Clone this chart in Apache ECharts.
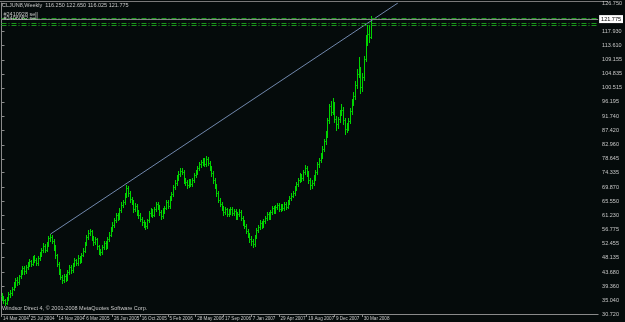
<!doctype html>
<html lang="en">
<head>
<meta charset="UTF-8">
<title>CLJUN8,Weekly</title>
<script src="https://cdn.jsdelivr.net/npm/echarts@6.0.0/dist/echarts.min.js"></script>
<style>
  html, body { margin: 0; padding: 0; background: #050b0b; }
  #main { width: 625px; height: 322px; }
</style>
</head>
<body>
<div id="main"></div>
<script type="text/javascript">
// weekly bars, 14 Mar 2004 .. 4 May 2008 (bar index = position on the x axis)
var opens = [
  36.4, 35.8, 34.9, 34.2, 35.5, 36.8, 37.2, 38.5, 39.8, 41.2, 40.5, 42.3, 43.6, 44.8, 43.9, 45.2,
  46.1, 47.0, 46.2, 48.1, 47.3, 46.5, 48.0, 49.2, 50.4, 51.8, 50.6, 52.3, 54.1, 54.6, 53.2, 51.4,
  48.9, 46.2, 44.0, 42.1, 41.3, 42.6, 41.5, 43.8, 45.1, 44.2, 46.0, 47.3, 46.5, 48.1, 47.2, 49.0,
  50.3, 52.4, 54.6, 55.8, 56.2, 54.2, 52.9, 53.8, 51.6, 50.2, 49.8, 51.3, 52.7, 51.5, 53.9, 55.2,
  57.0, 58.3, 59.6, 61.2, 60.4, 62.8, 64.5, 65.2, 67.3, 69.5, 68.1, 66.2, 65.4, 63.1, 64.2, 62.0,
  61.3, 60.2, 59.1, 58.4, 57.9, 59.6, 61.8, 62.5, 61.4, 63.2, 64.6, 63.8, 62.1, 61.0, 62.7, 63.5,
  65.2, 64.1, 66.5, 67.8, 69.9, 71.2, 72.8, 74.1, 75.0, 74.6, 72.0, 71.4, 70.5, 71.8, 70.9, 72.2,
  73.6, 74.5, 75.8, 76.9, 77.5, 78.2, 77.0, 78.6, 77.4, 75.9, 74.2, 72.0, 70.3, 68.1, 66.0, 64.8,
  63.5, 62.2, 63.0, 61.7, 62.4, 63.1, 61.9, 62.5, 60.8, 61.6, 62.3, 60.4, 59.1, 58.0, 56.5, 55.2,
  54.0, 53.2, 52.4, 54.6, 56.8, 57.5, 58.9, 58.2, 59.5, 60.3, 61.5, 60.8, 62.2, 63.4, 62.6, 63.8,
  64.3, 63.1, 64.0, 63.5, 64.7, 63.9, 65.2, 66.4, 67.3, 68.0, 69.5, 70.8, 72.1, 73.4, 72.7, 74.5,
  75.9, 74.2, 72.0, 70.5, 71.3, 72.8, 74.6, 76.9, 78.2, 79.5, 81.8, 84.0, 86.2, 90.5, 94.8, 93.2,
  95.6, 91.0, 89.4, 90.8, 92.9, 93.8, 90.5, 87.8, 88.6, 90.2, 93.4, 96.1, 98.0, 101.5, 104.8, 106.2,
  100.8, 103.9, 109.5, 115.8, 117.1, 116.25
];
var highs = [
  37.1, 36.3, 35.4, 36.0, 37.4, 38.1, 39.0, 40.6, 41.9, 42.0, 42.9, 44.2, 45.6, 45.4, 45.9, 46.9,
  47.8, 47.5, 48.7, 48.9, 47.9, 48.6, 49.9, 51.0, 52.5, 52.3, 52.9, 54.8, 55.4, 55.1, 53.8, 51.9,
  49.4, 46.8, 44.6, 42.9, 43.2, 43.1, 44.4, 45.8, 45.7, 46.6, 47.9, 47.8, 48.8, 48.6, 49.6, 51.0,
  53.0, 55.2, 56.6, 57.1, 56.8, 54.8, 54.5, 54.3, 52.1, 50.9, 51.9, 53.3, 53.2, 54.5, 55.9, 57.7,
  59.0, 60.3, 61.9, 61.8, 63.4, 65.2, 66.0, 68.0, 70.6, 70.2, 68.7, 67.0, 65.9, 64.9, 64.7, 62.8,
  61.9, 60.8, 59.8, 59.1, 60.2, 62.4, 63.3, 63.0, 63.9, 65.3, 65.2, 64.3, 62.7, 63.3, 64.2, 65.9,
  65.8, 67.1, 68.5, 70.6, 72.0, 73.5, 74.9, 75.9, 75.7, 75.1, 72.7, 72.0, 72.4, 72.3, 72.8, 74.3,
  75.2, 76.5, 77.6, 78.3, 79.0, 78.8, 79.6, 79.2, 78.0, 76.5, 74.8, 72.6, 70.9, 68.7, 66.6, 65.4,
  64.1, 63.7, 63.6, 63.1, 63.9, 63.7, 63.2, 63.0, 62.3, 63.0, 62.8, 61.0, 59.7, 58.6, 57.1, 55.8,
  54.7, 53.9, 55.2, 57.4, 58.3, 59.6, 59.5, 60.1, 61.0, 62.2, 62.1, 62.9, 64.1, 64.0, 64.5, 65.1,
  64.9, 64.7, 64.6, 65.4, 65.3, 65.9, 67.1, 68.0, 68.8, 70.2, 71.5, 72.8, 74.2, 74.0, 75.2, 76.8,
  76.5, 74.8, 72.6, 72.0, 73.5, 75.3, 77.6, 79.0, 80.4, 82.6, 84.9, 87.1, 91.3, 95.7, 96.4, 97.4,
  96.2, 91.8, 91.7, 93.8, 95.6, 94.6, 91.2, 89.7, 91.1, 94.2, 97.0, 99.2, 102.6, 106.3, 110.0, 106.9,
  105.2, 110.3, 116.8, 119.9, 120.0, 122.65
];
var lows = [
  35.0, 34.2, 33.4, 33.7, 35.0, 36.1, 36.7, 38.0, 39.2, 39.7, 40.0, 41.8, 43.1, 43.0, 43.4, 44.6,
  45.5, 45.4, 45.8, 46.8, 45.7, 46.0, 47.5, 48.7, 49.9, 49.8, 50.1, 51.8, 53.2, 52.5, 50.6, 48.1,
  45.5, 43.2, 41.4, 40.4, 40.7, 40.8, 41.1, 43.2, 43.5, 43.8, 45.4, 45.8, 46.0, 46.5, 46.8, 48.5,
  49.8, 51.9, 54.0, 55.0, 53.5, 52.1, 52.3, 50.9, 49.4, 49.0, 49.3, 50.8, 50.8, 51.1, 53.4, 54.7,
  56.4, 57.7, 59.0, 59.6, 60.0, 62.2, 63.8, 64.7, 66.8, 67.2, 65.4, 64.6, 62.3, 62.5, 61.2, 60.5,
  59.5, 58.3, 57.6, 57.0, 57.3, 59.1, 61.1, 60.6, 60.9, 62.6, 63.0, 61.3, 60.2, 60.5, 62.0, 63.0,
  63.3, 63.6, 65.9, 67.2, 69.3, 70.6, 72.2, 73.4, 73.8, 71.2, 70.6, 69.7, 69.9, 70.1, 70.3, 71.6,
  73.0, 73.9, 75.2, 76.2, 76.8, 76.3, 76.5, 76.7, 75.1, 73.4, 71.2, 69.5, 67.3, 65.2, 64.0, 62.7,
  61.4, 61.5, 60.9, 61.0, 61.7, 61.2, 61.2, 60.0, 60.1, 60.9, 59.6, 58.3, 57.2, 55.7, 54.4, 53.1,
  52.1, 51.3, 51.8, 54.1, 56.1, 56.9, 57.4, 57.6, 58.9, 59.7, 60.0, 60.2, 61.6, 61.8, 62.0, 63.1,
  62.4, 62.5, 62.8, 62.9, 63.1, 63.3, 64.6, 65.8, 66.7, 67.4, 68.9, 70.2, 71.5, 71.9, 72.1, 73.9,
  73.4, 71.1, 69.4, 69.6, 70.7, 72.2, 74.0, 76.2, 77.5, 78.9, 81.1, 83.2, 85.5, 89.8, 92.1, 92.6,
  89.9, 87.6, 88.3, 90.1, 92.2, 89.4, 86.2, 86.9, 87.5, 89.6, 92.5, 95.3, 97.2, 100.6, 103.9, 99.1,
  99.6, 102.9, 108.9, 113.9, 114.8, 116.025
];
var closes = [
  35.8, 34.9, 34.2, 35.5, 36.8, 37.2, 38.5, 39.8, 41.2, 40.5, 42.3, 43.6, 44.8, 43.9, 45.2, 46.1,
  47.0, 46.2, 48.1, 47.3, 46.5, 48.0, 49.2, 50.4, 51.8, 50.6, 52.3, 54.1, 54.6, 53.2, 51.4, 48.9,
  46.2, 44.0, 42.1, 41.3, 42.6, 41.5, 43.8, 45.1, 44.2, 46.0, 47.3, 46.5, 48.1, 47.2, 49.0, 50.3,
  52.4, 54.6, 55.8, 56.2, 54.2, 52.9, 53.8, 51.6, 50.2, 49.8, 51.3, 52.7, 51.5, 53.9, 55.2, 57.0,
  58.3, 59.6, 61.2, 60.4, 62.8, 64.5, 65.2, 67.3, 69.5, 68.1, 66.2, 65.4, 63.1, 64.2, 62.0, 61.3,
  60.2, 59.1, 58.4, 57.9, 59.6, 61.8, 62.5, 61.4, 63.2, 64.6, 63.8, 62.1, 61.0, 62.7, 63.5, 65.2,
  64.1, 66.5, 67.8, 69.9, 71.2, 72.8, 74.1, 75.0, 74.6, 72.0, 71.4, 70.5, 71.8, 70.9, 72.2, 73.6,
  74.5, 75.8, 76.9, 77.5, 78.2, 77.0, 78.6, 77.4, 75.9, 74.2, 72.0, 70.3, 68.1, 66.0, 64.8, 63.5,
  62.2, 63.0, 61.7, 62.4, 63.1, 61.9, 62.5, 60.8, 61.6, 62.3, 60.4, 59.1, 58.0, 56.5, 55.2, 54.0,
  53.2, 52.4, 54.6, 56.8, 57.5, 58.9, 58.2, 59.5, 60.3, 61.5, 60.8, 62.2, 63.4, 62.6, 63.8, 64.3,
  63.1, 64.0, 63.5, 64.7, 63.9, 65.2, 66.4, 67.3, 68.0, 69.5, 70.8, 72.1, 73.4, 72.7, 74.5, 75.9,
  74.2, 72.0, 70.5, 71.3, 72.8, 74.6, 76.9, 78.2, 79.5, 81.8, 84.0, 86.2, 90.5, 94.8, 93.2, 95.6,
  91.0, 89.4, 90.8, 92.9, 93.8, 90.5, 87.8, 88.6, 90.2, 93.4, 96.1, 98.0, 101.5, 104.8, 106.2, 100.8,
  103.9, 109.5, 115.8, 117.1, 116.3, 121.775
];

// x axis ticks (bar index) and their labels
var xTickIdx = [0, 16, 32, 48, 64, 80, 96, 112, 128, 144, 160, 176, 192, 208];
var xTickLabels = ['14 Mar 2004', '25 Jul 2004', '14 Nov 2004', '6 Mar 2005', '26 Jun 2005',
  '16 Oct 2005', '5 Feb 2006', '28 May 2006', '17 Sep 2006', '7 Jan 2007', '29 Apr 2007',
  '19 Aug 2007', '9 Dec 2007', '30 Mar 2008'];

// price scale labels on the right
var yTicks = [126.750, 117.930, 113.610, 109.155, 104.835, 100.515, 96.195, 91.740, 87.420,
  82.960, 78.645, 74.335, 69.870, 65.550, 61.230, 56.775, 52.455, 48.135, 43.680, 39.360,
  35.040, 30.720];

var lastPrice = 121.775;
var orderPrices = [122.03, 120.64, 119.74];
var orderNames = ['#2410928 sell', '#2406082 sell', ''];

// trend line anchors [bar index, price]
var trendX = [28.3, 228.6];
var trendY = [55.42, 126.75];

var ohlc = [];
for (var i = 0; i < closes.length; i++) {
    ohlc.push([i, opens[i], highs[i], lows[i], closes[i]]);
}

var barColor = '#00d400';
var textColor = '#c8c8c8';
var font = '"Liberation Sans", sans-serif';

function renderBar(params, api) {
    var x = api.value(0);
    var o = api.coord([x, api.value(1)]);
    var h = api.coord([x, api.value(2)]);
    var l = api.coord([x, api.value(3)]);
    var c = api.coord([x, api.value(4)]);
    var px = Math.round(h[0]) + 0.5;
    var st = { stroke: barColor, lineWidth: 1 };
    return {
        type: 'group',
        children: [
            { type: 'line', shape: { x1: px, y1: Math.round(h[1]), x2: px, y2: Math.round(l[1]) + 1 }, style: st },
            { type: 'line', shape: { x1: px - 1, y1: Math.round(o[1]) + 0.5, x2: px, y2: Math.round(o[1]) + 0.5 }, style: st },
            { type: 'line', shape: { x1: px, y1: Math.round(c[1]) + 0.5, x2: px + 1, y2: Math.round(c[1]) + 0.5 }, style: st }
        ]
    };
}

var orderLines = [];
for (var k = 0; k < orderPrices.length; k++) {
    orderLines.push({
        yAxis: orderPrices[k],
        lineStyle: { color: '#1b9a1b', type: [5, 2, 1, 2], width: 1 },
        label: {
            show: orderNames[k] !== '',
            formatter: orderNames[k],
            position: 'insideStartTop',
            distance: [2, 1],
            color: textColor,
            fontSize: 5.5,
            fontFamily: font
        }
    });
}
orderLines.push({
    yAxis: lastPrice,
    lineStyle: { color: '#8a8a8a', type: 'solid', width: 1 },
    label: {
        show: true,
        position: 'end',
        distance: 1,
        formatter: lastPrice.toFixed(3),
        color: '#000',
        backgroundColor: '#ffffff',
        padding: [1, 2, 1, 2],
        fontSize: 5.5,
        fontFamily: font
    }
});

var myChart = echarts.init(document.getElementById('main'));

var option = {
    backgroundColor: '#050b0b',
    animation: false,
    grid: { left: 0, right: 17, top: 3, bottom: 8 },
    graphic: [
        { type: 'line', shape: { x1: 0, y1: 1.5, x2: 608, y2: 1.5 }, style: { stroke: '#7a7a7a', lineWidth: 1 } },
        {
            type: 'text', left: 2, top: 2,
            style: { text: 'CLJUN8,Weekly  116.250 122.650 116.025 121.775', fill: textColor, fontSize: 5.5, fontFamily: font }
        },
        {
            type: 'text', left: 2, top: 305,
            style: { text: 'Windsor Direct 4, \u00a9 2001-2008 MetaQuotes Software Corp.', fill: textColor, fontSize: 5.5, fontFamily: font }
        }
    ],
    xAxis: {
        type: 'value',
        min: 0,
        max: 344.1,
        splitLine: { show: false },
        axisLine: { show: true, lineStyle: { color: '#8a8a8a' } },
        axisTick: { show: true, length: 3, customValues: xTickIdx, lineStyle: { color: '#8a8a8a' } },
        axisLabel: {
            customValues: xTickIdx,
            showMinLabel: true,
            showMaxLabel: true,
            hideOverlap: false,
            align: 'left',
            margin: 2,
            padding: [0, 0, 0, 1.5],
            color: textColor,
            fontSize: 4.6,
            fontFamily: font,
            formatter: function (v) {
                var n = xTickIdx.indexOf(Math.round(v));
                return n >= 0 ? xTickLabels[n] : '';
            }
        }
    },
    yAxis: {
        type: 'value',
        position: 'right',
        min: 30.72,
        max: 126.75,
        splitLine: { show: false },
        axisLine: { show: true, lineStyle: { color: '#8a8a8a' } },
        axisTick: { show: true, length: 3, customValues: yTicks, lineStyle: { color: '#8a8a8a' } },
        axisLabel: {
            customValues: yTicks,
            showMinLabel: true,
            showMaxLabel: true,
            hideOverlap: false,
            margin: 4,
            color: textColor,
            fontSize: 5.5,
            fontFamily: font,
            formatter: function (v) { return v.toFixed(3); }
        }
    },
    series: [
        {
            name: 'CLJUN8',
            type: 'custom',
            renderItem: renderBar,
            encode: { x: 0, y: [1, 2, 3, 4] },
            data: ohlc
        },
        {
            name: 'trend',
            type: 'line',
            data: [[trendX[0], trendY[0]], [trendX[1], trendY[1]]],
            symbol: 'none',
            lineStyle: { color: '#7188ad', width: 1 },
            markLine: {
                silent: true,
                symbol: 'none',
                data: orderLines
            }
        }
    ]
};

myChart.setOption(option);
</script>
</body>
</html>
